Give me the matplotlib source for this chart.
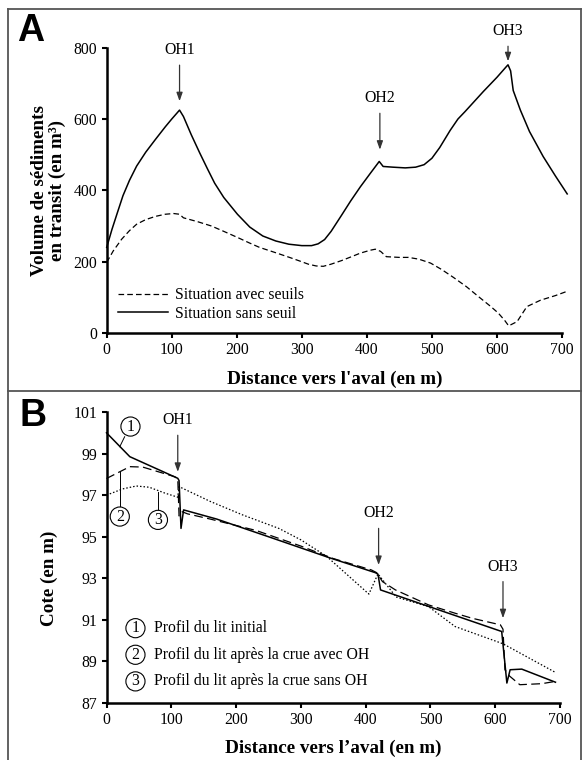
import matplotlib
matplotlib.use("Agg")
import matplotlib.pyplot as plt
from matplotlib.lines import Line2D

plt.rcParams['font.family'] = ['Liberation Serif', 'DejaVu Serif']

# ---------------- Panel A data ----------------
dist_sans = [0, 8, 16, 25, 35, 46, 60, 75, 90, 100, 112, 118, 130, 143, 155, 166, 180, 201,
             220, 240, 260, 280, 300, 315, 325, 335, 345, 361, 375, 390, 405, 419, 425, 440,
             459, 475, 488, 500, 512, 528, 540, 551, 579, 600, 614, 617, 621, 625, 636, 650,
             671, 690, 708]
vol_sans = [240, 290, 335, 385, 428, 468, 507, 543, 578, 600, 625, 607, 556, 505, 460, 420,
            380, 333, 297, 272, 258, 249, 245, 245, 250, 262, 285, 330, 370, 410, 447, 481,
            467, 465, 463, 465, 472, 490, 520, 568, 600, 621, 677, 717, 746, 752, 735, 680,
            625, 565, 495, 440, 390]

dist_avec = [0, 10, 23, 35, 46, 60, 75, 90, 103, 112, 118, 140, 161, 180, 201, 220, 235, 260,
             281, 295, 310, 322, 333, 345, 361, 375, 390, 405, 413, 421, 430, 450, 464, 480,
             498, 515, 533, 553, 573, 590, 602, 612, 618, 631, 646, 667, 690, 708]
vol_avec = [198, 230, 263, 287, 305, 318, 327, 333, 335, 333, 323, 312, 300, 285, 268, 252,
            240, 225, 212, 203, 193, 188, 187, 193, 203, 213, 224, 232, 235, 229, 214, 212,
            212, 207, 196, 178, 156, 130, 100, 75, 56, 35, 20, 32, 74, 92, 105, 117]

labels_A = ["Situation avec seuils", "Situation sans seuil"]
oh_A = {"OH1": (112, 650, 793), "OH2": (420, 514, 658), "OH3": (617, 762, 846)}

# ---------------- Panel B data ----------------
dist_p1 = [0, 36, 110, 112, 115, 119, 170, 250, 343, 415, 419, 423, 610, 618, 623, 641, 693]
cote_p1 = [100.0, 98.85, 97.81, 97.7, 95.4, 96.29, 95.85, 95.0, 94.0, 93.27, 93.2, 92.44,
           90.44, 87.96, 88.6, 88.63, 88.0]

dist_p2 = [0, 36, 56, 105, 110, 112, 117, 125, 160, 231, 300, 350, 409, 417, 426, 446, 497,
           538, 564, 608, 612, 615, 622, 638, 672, 693]
cote_p2 = [97.8, 98.37, 98.35, 97.89, 97.8, 96.0, 96.2, 96.1, 95.85, 95.3, 94.55, 93.95,
           93.4, 93.27, 92.84, 92.44, 91.72, 91.32, 91.08, 90.76, 90.55, 88.6, 88.3, 87.88,
           87.93, 88.04]

dist_p3 = [0, 25, 46, 66, 90, 110, 112, 160, 210, 266, 300, 340, 405, 419, 447, 497, 538,
           612, 693]
cote_p3 = [97.0, 97.3, 97.44, 97.38, 97.1, 96.9, 97.41, 96.7, 96.05, 95.4, 94.85, 94.05,
           92.24, 93.21, 92.1, 91.64, 90.68, 89.85, 88.47]

labels_B = ["Profil du lit initial", "Profil du lit après la crue avec OH",
            "Profil du lit après la crue sans OH"]
oh_B = {"OH1": (110, 98.12, 100.6), "OH2": (420, 93.64, 96.12), "OH3": (612, 91.08, 93.56)}

# ---------------- figure ----------------
W, H = 582, 760
fig = plt.figure(figsize=(W / 100, H / 100), dpi=100)

def fx(px):
    return px / W

def fy(py):
    return 1 - py / H

frame_kw = dict(color="#555555", lw=1.3, transform=fig.transFigure)
fig.add_artist(Line2D([fx(8), fx(8)], [fy(9), 0], **frame_kw))
fig.add_artist(Line2D([fx(8), fx(580.5)], [fy(9), fy(9)], **frame_kw))
fig.add_artist(Line2D([fx(580.5), fx(580.5)], [fy(9), 0], **frame_kw))
fig.add_artist(Line2D([fx(8), fx(580.5)], [fy(391), fy(391)], **frame_kw))

axA = fig.add_axes([fx(106.7), fy(333), (562 - 106.7) / W, (333 - 47.7) / H])
axB = fig.add_axes([fx(106.5), fy(703), (560 - 106.5) / W, (703 - 412) / H])

tick_fs = 11.3
lab_fs = 13.8

for ax in (axA, axB):
    for s in ("top", "right"):
        ax.spines[s].set_visible(False)
    for s in ("left", "bottom"):
        ax.spines[s].set_linewidth(1.8)
    ax.tick_params(direction="out", length=3.8, width=1.5, labelsize=tick_fs, pad=3)
    ax.set_facecolor("none")

# Panel A
axA.plot(dist_avec, vol_avec, color="black", lw=0.9, ls=(0, (4.5, 2.5)), label=labels_A[0],
         clip_on=False)
axA.plot(dist_sans, vol_sans, color="black", lw=1.1, label=labels_A[1], clip_on=False)
axA.set_xlim(0, 700)
axA.set_ylim(0, 800)
axA.set_xticks(range(0, 701, 100))
axA.set_yticks(range(0, 801, 200))
axA.set_xlabel("Distance vers l'aval (en m)", fontsize=lab_fs, fontweight="bold", labelpad=9)
axA.set_ylabel("Volume de sédiments\nen transit (en m³)", fontsize=lab_fs, fontweight="bold",
               va="center", linespacing=1.05)
axA.yaxis.set_label_coords(-0.128, 0.5)
axA.legend(loc="lower left", bbox_to_anchor=(0.025, 0.04), frameon=False, fontsize=tick_fs,
           handlelength=3.2, handletextpad=0.4, labelspacing=0.15, borderpad=0,
           borderaxespad=0)
arrow_kw = dict(arrowstyle="-|>,head_length=0.45,head_width=0.16", color="#333333", lw=0.9,
                shrinkA=3, shrinkB=0)
for name, (x, tip, txt) in oh_A.items():
    axA.annotate(name, xy=(x, tip), xytext=(x, txt), ha="center", va="center",
                 fontsize=tick_fs, arrowprops=arrow_kw, annotation_clip=False)

# Panel B
axB.plot(dist_p3, cote_p3, color="black", lw=0.9, ls=(0, (1.2, 1.6)), clip_on=False)
axB.plot(dist_p2, cote_p2, color="black", lw=0.9, ls=(0, (7, 3.5)), clip_on=False)
axB.plot(dist_p1, cote_p1, color="black", lw=1.1, clip_on=False)
axB.set_xlim(0, 700)
axB.set_ylim(87, 101)
axB.set_xticks(range(0, 701, 100))
axB.set_yticks(range(87, 102, 2))
axB.set_xlabel("Distance vers l’aval (en m)", fontsize=lab_fs, fontweight="bold", labelpad=8)
axB.set_ylabel("Cote (en m)", fontsize=lab_fs, fontweight="bold", va="center")
axB.yaxis.set_label_coords(-0.127, 0.43)
for name, (x, tip, txt) in oh_B.items():
    axB.annotate(name, xy=(x, tip), xytext=(x, txt), ha="center", va="center",
                 fontsize=tick_fs, arrowprops=arrow_kw, annotation_clip=False)

circ = dict(boxstyle="circle,pad=0.1", fc="white", ec="black", lw=0.8)
# circled markers on curves with leader lines
axB.plot([28, 20.5], [99.81, 99.33], color="black", lw=0.7)
axB.text(37, 100.3, "1", ha="center", va="center", fontsize=tick_fs, bbox=circ)
axB.plot([20.5, 20.5], [98.13, 96.42], color="black", lw=0.7)
axB.text(20.5, 95.97, "2", ha="center", va="center", fontsize=tick_fs, bbox=circ)
axB.plot([79.4, 79.4], [97.15, 96.25], color="black", lw=0.7)
axB.text(79.4, 95.81, "3", ha="center", va="center", fontsize=tick_fs, bbox=circ)

# key
for i, (lab, yk) in enumerate(zip(labels_B, [90.6, 89.32, 88.04])):
    axB.text(44.7, yk, str(i + 1), ha="center", va="center", fontsize=tick_fs, bbox=circ)
    axB.text(73.4, yk, lab, ha="left", va="center", fontsize=tick_fs)

fig.text(fx(17), fy(31), "A", fontsize=27, fontweight="bold", family="Liberation Sans",
         ha="left", va="center")
fig.text(fx(20), fy(416), "B", fontsize=27, fontweight="bold", family="Liberation Sans",
         ha="left", va="center")

fig.savefig("out.png", dpi=100)
